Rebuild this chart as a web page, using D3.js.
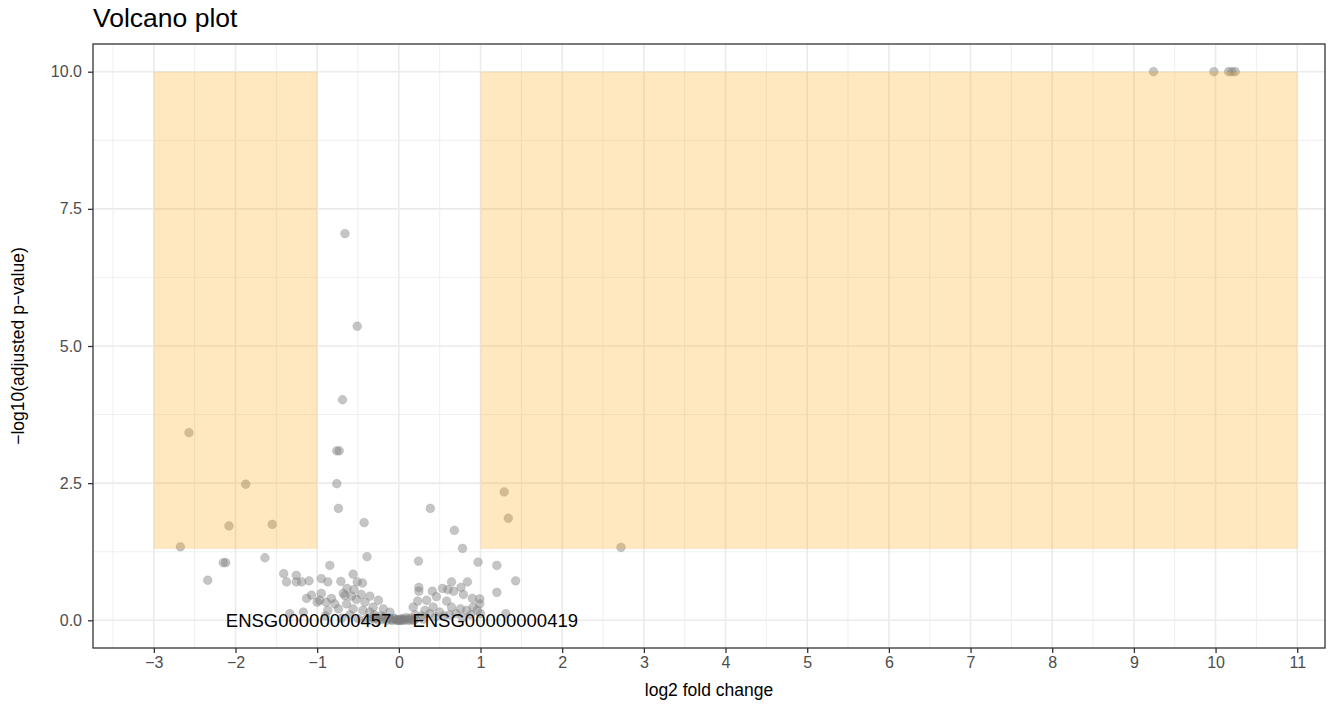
<!DOCTYPE html>
<html>
<head>
<meta charset="utf-8">
<script src="https://cdn.jsdelivr.net/npm/d3@7"></script>
<style>
  body { margin: 0; background: #fff; }
  svg { display: block; font-family: "Liberation Sans", Arial, sans-serif; }
</style>
</head>
<body>
<svg id="chart" width="1330" height="709"></svg>
<script>
// log2 fold change and -log10(adjusted p-value) per gene
const log2FC = [
  9.24, 9.98, 10.16, 10.2, 10.24,
  -0.66, -0.51, -0.69, -0.76, -0.73, -0.76, -0.74, 0.385, -0.425, -0.39, 0.24,
  -2.57, -1.875, -2.08, -1.55, -2.675,
  -1.64, -2.15, -2.12, -2.34,
  1.29, 1.34, 2.72, 0.78, 0.97, 1.2, 0.68, 1.43, 1.2, 1.31,
  0.245, 0.245, 0.41, 0.535, 0.6, 0.645, 0.67, 0.76, 0.84, 0.79, 0.9, 0.99, 0.34, 0.46, 0.585, 0.23,
  0.175, 0.32, 0.42, 0.645, 0.755, 0.91, 0.96, 0.99, 0.83, 0.5,
  0.2, 0.28, 0.38, 0.55, 0.62, 0.7, 0.88, 1.0, 0.45, 0.78,
  -0.845, -1.41, -1.255, -1.375, -1.255, -1.19, -1.1, -0.95, -0.87, -0.71, -0.56, -0.51, -0.445,
  -0.635, -0.55, -0.68, -0.58, -0.46, -0.355, -0.25, -1.07, -1.13, -0.95, -0.97, -0.825, -0.89,
  -0.785, -0.52, -0.415, -0.64, -0.315, -0.19, -0.56, -0.74, -0.87, -1.17, -1.335, -0.355, -0.11, -0.44,
  -1.0, -0.66, -0.3, -0.22, -0.6, -0.9,
  -0.4, -0.35, -0.3, -0.25, -0.2, -0.15, -0.12, -0.1, -0.08, -0.05, -0.03, -0.02, 0, 0.01, 0.02,
  0.03, 0.05, 0.07, 0.1, 0.12, 0.15, 0.18, 0.2, -0.28, -0.18, -0.06, 0.04, 0.09, 0.14, -0.5, -0.7, 0.3
];
const negLog10P = [
  10, 10, 10, 10, 10,
  7.05, 5.36, 4.02, 3.09, 3.09, 2.49, 2.04, 2.04, 1.78, 1.16, 1.08,
  3.42, 2.48, 1.72, 1.75, 1.34,
  1.14, 1.05, 1.05, 0.73,
  2.34, 1.86, 1.33, 1.31, 1.06, 1.0, 1.64, 0.72, 0.51, 0.12,
  0.60, 0.53, 0.53, 0.58, 0.56, 0.70, 0.53, 0.60, 0.70, 0.47, 0.40, 0.39, 0.365, 0.43, 0.35, 0.35,
  0.24, 0.18, 0.24, 0.24, 0.21, 0.24, 0.18, 0.30, 0.18, 0.15,
  0.10, 0.08, 0.12, 0.08, 0.10, 0.12, 0.10, 0.12, 0.06, 0.05,
  1.0, 0.85, 0.82, 0.70, 0.70, 0.70, 0.72, 0.76, 0.70, 0.71, 0.84, 0.70, 0.68,
  0.58, 0.56, 0.49, 0.44, 0.47, 0.44, 0.365, 0.46, 0.40, 0.49, 0.365, 0.40, 0.33,
  0.30, 0.38, 0.33, 0.30, 0.24, 0.21, 0.21, 0.21, 0.18, 0.15, 0.12, 0.15, 0.15, 0.18,
  0.33, 0.45, 0.10, 0.08, 0.10, 0.08,
  0.02, 0.01, 0.03, 0, 0.02, 0, 0.04, 0.01, 0, 0.02, 0, 0.01, 0, 0, 0.02,
  0, 0.01, 0, 0.02, 0, 0.01, 0, 0.02, 0.05, 0.06, 0.04, 0.03, 0.05, 0.04, 0.03, 0.04, 0.02
];

// labelled genes and where their text sits
const labelGenes = ["ENSG00000000457", "ENSG00000000419"];
const labelX = [-1.105, 1.18];
const labelY = [0, 0];

// significance regions: [xmin, xmax] at padj < 0.05
const regionXMin = [-3, 1];
const regionXMax = [-1, 11];
const regionYMin = -Math.log10(0.05);
const regionYMax = 10;

const xTicks = d3.range(-3, 12, 1);
const yTicks = [0, 2.5, 5, 7.5, 10];

const W = 1330, H = 709;
const margin = { left: 93, right: 5, top: 44, bottom: 61 };
const pw = W - margin.left - margin.right;
const ph = H - margin.top - margin.bottom;

const x = d3.scaleLinear().domain([-3.745, 11.34]).range([margin.left, margin.left + pw]);
const y = d3.scaleLinear().domain([-0.505, 10.505]).range([margin.top + ph, margin.top]);

const svg = d3.select("#chart");
const gridColor = "#ebebeb";

// minor grid
const xMinor = d3.range(-3.5, 11.5, 1);
const yMinor = [1.25, 3.75, 6.25, 8.75];
svg.append("g").selectAll("line").data(xMinor).join("line")
  .attr("x1", d => x(d)).attr("x2", d => x(d))
  .attr("y1", margin.top).attr("y2", margin.top + ph)
  .attr("stroke", gridColor).attr("stroke-width", 0.8);
svg.append("g").selectAll("line").data(yMinor).join("line")
  .attr("y1", d => y(d)).attr("y2", d => y(d))
  .attr("x1", margin.left).attr("x2", margin.left + pw)
  .attr("stroke", gridColor).attr("stroke-width", 0.8);
// major grid
svg.append("g").selectAll("line").data(xTicks).join("line")
  .attr("x1", d => x(d)).attr("x2", d => x(d))
  .attr("y1", margin.top).attr("y2", margin.top + ph)
  .attr("stroke", gridColor).attr("stroke-width", 1.6);
svg.append("g").selectAll("line").data(yTicks).join("line")
  .attr("y1", d => y(d)).attr("y2", d => y(d))
  .attr("x1", margin.left).attr("x2", margin.left + pw)
  .attr("stroke", gridColor).attr("stroke-width", 1.6);

// gene points
const genes = log2FC.map((v, i) => ({ fc: v, p: negLog10P[i] }));
svg.append("g").selectAll("circle").data(genes).join("circle")
  .attr("cx", d => x(d.fc)).attr("cy", d => y(d.p)).attr("r", 4.4)
  .attr("fill", "#7f7f7f").attr("fill-opacity", 0.45)
  .attr("stroke", "#7f7f7f").attr("stroke-opacity", 0.25).attr("stroke-width", 0.8);

// shaded significance regions
svg.append("g").selectAll("rect").data(regionXMin).join("rect")
  .attr("x", (d, i) => x(d))
  .attr("width", (d, i) => x(regionXMax[i]) - x(d))
  .attr("y", y(regionYMax))
  .attr("height", y(regionYMin) - y(regionYMax))
  .attr("fill", "orange").attr("fill-opacity", 0.25);

// gene labels
svg.append("g").selectAll("text").data(labelGenes).join("text")
  .attr("x", (d, i) => x(labelX[i])).attr("y", (d, i) => y(labelY[i]))
  .attr("text-anchor", "middle").attr("dy", "0.36em")
  .attr("font-size", 18.5).attr("fill", "#000")
  .text(d => d);

// panel border
svg.append("rect")
  .attr("x", margin.left).attr("y", margin.top)
  .attr("width", pw).attr("height", ph)
  .attr("fill", "none").attr("stroke", "#333").attr("stroke-width", 1.3);

// axes
const xAxis = svg.append("g").attr("transform", `translate(0,${margin.top + ph})`)
  .call(d3.axisBottom(x).tickValues(xTicks).tickSize(5).tickPadding(4).tickFormat(d3.format("d")));
const yAxis = svg.append("g").attr("transform", `translate(${margin.left},0)`)
  .call(d3.axisLeft(y).tickValues(yTicks).tickSize(5).tickPadding(6).tickFormat(d3.format(".1f")));
[xAxis, yAxis].forEach(g => {
  g.select(".domain").remove();
  g.selectAll(".tick line").attr("stroke", "#333").attr("stroke-width", 1.3);
  g.selectAll(".tick text").attr("fill", "#4d4d4d").attr("font-size", 16)
    .attr("font-family", "Liberation Sans, Arial, sans-serif");
});

// axis titles and plot title
svg.append("text")
  .attr("x", margin.left + pw / 2).attr("y", 696)
  .attr("text-anchor", "middle").attr("font-size", 17.5).attr("fill", "#000")
  .text("log2 fold change");
svg.append("text")
  .attr("transform", `translate(24,${margin.top + ph / 2}) rotate(-90)`)
  .attr("text-anchor", "middle").attr("font-size", 17.5).attr("fill", "#000")
  .text("−log10(adjusted p−value)");
svg.append("text")
  .attr("x", margin.left).attr("y", 27)
  .attr("font-size", 26.5).attr("fill", "#000")
  .text("Volcano plot");
</script>
</body>
</html>
